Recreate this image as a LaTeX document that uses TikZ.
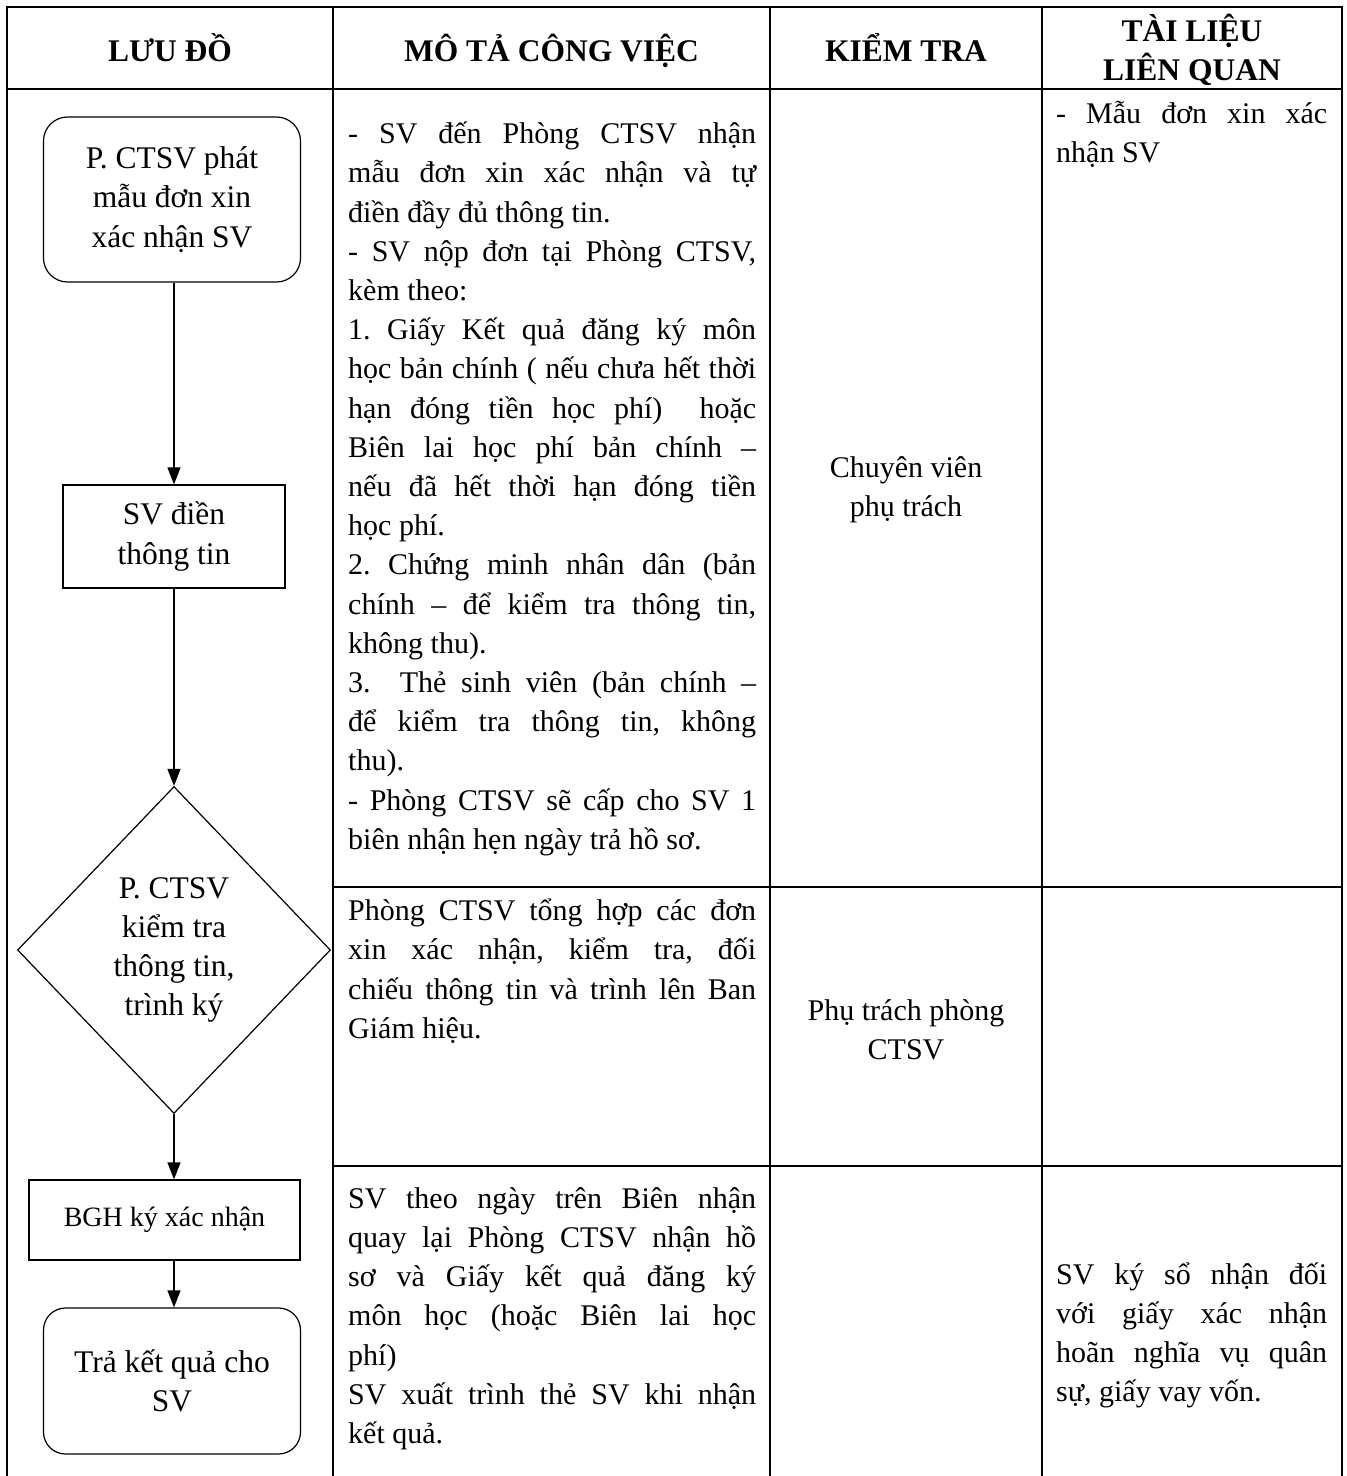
\documentclass[tikz,border=0pt]{standalone}
\usepackage{fontspec}
\setmainfont{Liberation Serif}
\usepackage{tikz}
\usetikzlibrary{shapes.geometric}
\usetikzlibrary{arrows.meta}
\newcommand{\cellfont}{\fontsize{30}{39.2}\selectfont}
\newcommand{\boxfont}{\fontsize{31.5}{39.2}\selectfont}
\newcommand{\bghfont}{\fontsize{28}{36}\selectfont}
\tolerance=10000
\hyphenpenalty=10000
\frenchspacing

\begin{document}
\begin{tikzpicture}
    [
    x=1pt, y=-1pt,
    grid/.style = {line width=2pt},
    startbox/.style = {draw, line width=1.2pt, rounded corners=24pt, align=center, font=\boxfont, inner sep=0pt},
    stepbox/.style = {draw, line width=1.2pt, align=center, font=\boxfont, inner sep=0pt},
    checkbox/.style = {draw, diamond, line width=1.2pt, align=center, font=\boxfont, inner sep=0pt},
    flow/.style = {-{Triangle[length=17pt,width=13pt]}, line width=1.2pt},
    head/.style = {align=center, font=\boxfont\bfseries},
    cell/.style = {anchor=north west, inner sep=0pt, align=justify, font=\cellfont}
    ]
\useasboundingbox (0,0) rectangle (1347,1476);
\draw[grid] (7,7) rectangle (1342,1480);
\draw[grid] (7,89) -- (1342,89);
\draw[grid] (333,887) -- (1342,887);
\draw[grid] (333,1166) -- (1342,1166);
\foreach \x in {333,770,1042}
    \draw[grid] (\x,7) -- (\x,1480);

\node[head, anchor=base] (hluu) at (170,61) {LƯU ĐỒ};
\node[head, anchor=base] (hmota) at (551.5,61) {MÔ TẢ CÔNG VIỆC};
\node[head, anchor=base] (hkiem) at (906,61) {KIỂM TRA};
\node[head] (htai) at (1192,50) {TÀI LIỆU\\LIÊN QUAN};

\node[startbox, minimum width=257pt, minimum height=165pt] (phat) at (172,199.5) {P. CTSV phát\\mẫu đơn xin\\xác nhận SV};
\node[stepbox, minimum width=222pt, minimum height=103pt] (dien) at (174,536.5) {SV điền\\thông tin};
\node[checkbox, minimum width=313pt, minimum height=327pt] (ktra) at (174,950) {P. CTSV\\kiểm tra\\thông tin,\\trình ký};
\node[stepbox, minimum width=271pt, minimum height=80pt, font=\bghfont] (bgh) at (164.5,1220) {BGH ký xác nhận};
\node[startbox, minimum width=257pt, minimum height=146pt, rounded corners=22pt] (tra) at (172,1381) {Trả kết quả cho\\SV};

\draw[flow] (phat.south -| dien.north) -- (dien.north);
\draw[flow] (dien.south) -- (ktra.north);
\draw[flow] (ktra.south) -- (ktra.south |- bgh.north);
\draw[flow] (ktra.south |- bgh.south) -- (ktra.south |- tra.north);

\node[cell, text width=408pt] (mota1) at (348,116) {\strut- SV đến Phòng CTSV nhận\linebreak
mẫu đơn xin xác nhận và tự\linebreak
điền đầy đủ thông tin.\\
- SV nộp đơn tại Phòng CTSV,\linebreak
kèm theo:\\
1. Giấy Kết quả đăng ký môn\linebreak
học bản chính ( nếu chưa hết thời\linebreak
hạn đóng tiền học phí)\ \ hoặc\linebreak
Biên lai học phí bản chính –\linebreak
nếu đã hết thời hạn đóng tiền\linebreak
học phí.\\
2. Chứng minh nhân dân (bản\linebreak
chính – để kiểm tra thông tin,\linebreak
không thu).\\
3.\ \ Thẻ sinh viên (bản chính –\linebreak
để kiểm tra thông tin, không\linebreak
thu).\\
- Phòng CTSV sẽ cấp cho SV 1\linebreak
biên nhận hẹn ngày trả hồ sơ.};
\node[cell, text width=408pt] (mota2) at (348,893) {\strut Phòng CTSV tổng hợp các đơn\linebreak
xin xác nhận, kiểm tra, đối\linebreak
chiếu thông tin và trình lên Ban\linebreak
Giám hiệu.};
\node[cell, text width=408pt] (mota3) at (348,1180.6) {\strut SV theo ngày trên Biên nhận\linebreak
quay lại Phòng CTSV nhận hồ\linebreak
sơ và Giấy kết quả đăng ký\linebreak
môn học (hoặc Biên lai học\linebreak
phí)\\
SV xuất trình thẻ SV khi nhận\linebreak
kết quả.};

\node[align=center, font=\cellfont] (kiem1) at (906,490) {Chuyên viên\\phụ trách};
\node[align=center, font=\cellfont] (kiem2) at (906,1030) {Phụ trách phòng\\CTSV};

\node[cell, text width=271pt] (tai1) at (1056,95.6) {\strut- Mẫu đơn xin xác\linebreak
nhận SV};
\node[cell, text width=271pt] (tai3) at (1056,1256.6) {\strut SV ký sổ nhận đối\linebreak
với giấy xác nhận\linebreak
hoãn nghĩa vụ quân\linebreak
sự, giấy vay vốn.};
\end{tikzpicture}
\end{document}
